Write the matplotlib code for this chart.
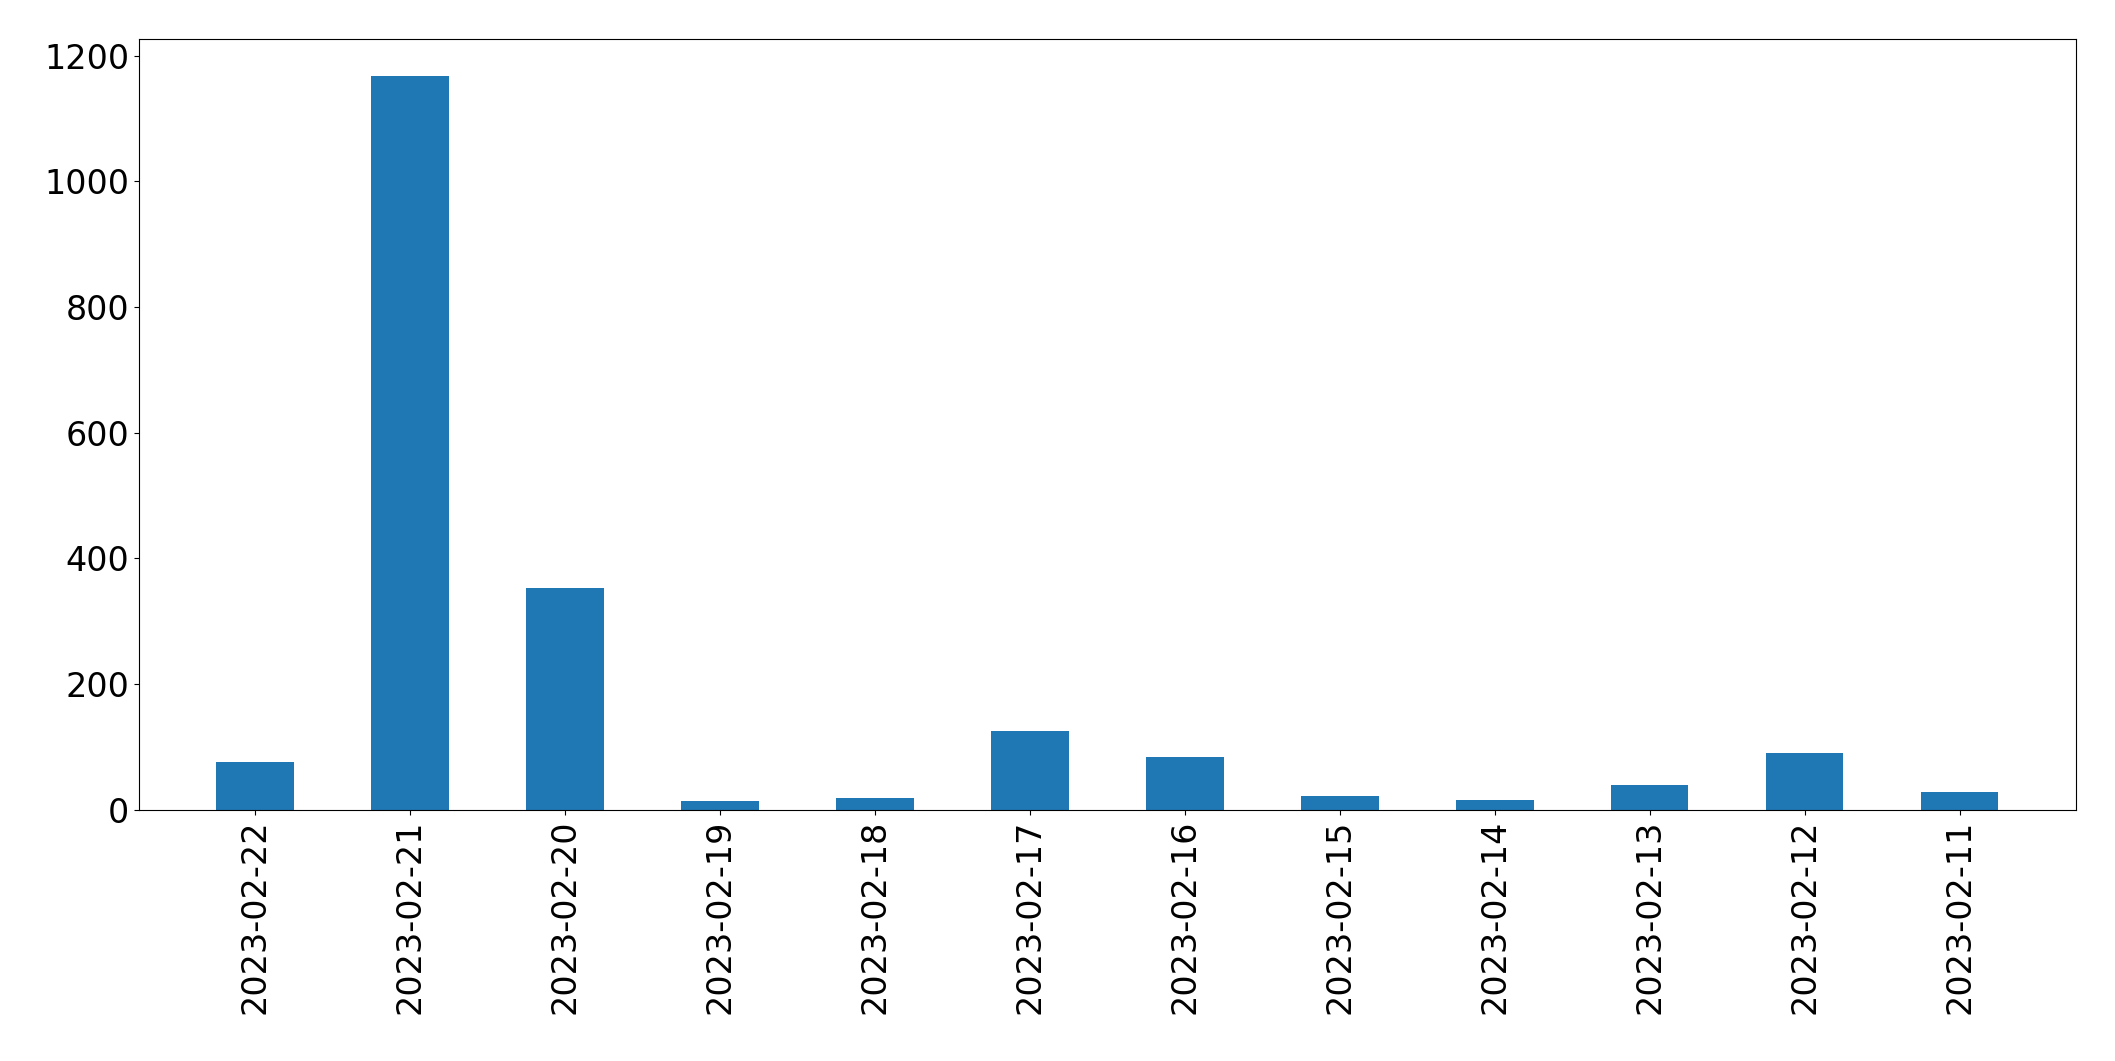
import matplotlib
matplotlib.use("Agg")
import matplotlib.pyplot as plt

dates = ["2023-02-22","2023-02-21","2023-02-20","2023-02-19","2023-02-18","2023-02-17",
         "2023-02-16","2023-02-15","2023-02-14","2023-02-13","2023-02-12","2023-02-11"]
counts = [75, 1168, 353, 13, 19, 125, 84, 21, 15, 39, 90, 28]

fig = plt.figure(figsize=(21.15, 10.61), dpi=100)
ax = fig.add_axes([0.0657, 0.237, 0.9158, 0.726])
x = list(range(len(dates)))
ax.bar(x, counts, width=0.5, color="#1f77b4")
ax.set_xticks(x)
ax.set_xticklabels(dates, rotation=90)
ax.set_xlim(-0.75, len(dates) - 0.25)
ax.set_ylim(0, 1226)
ax.set_yticks([0, 200, 400, 600, 800, 1000, 1200])
ax.tick_params(labelsize=24)
fig.savefig("out.png", dpi=100)
